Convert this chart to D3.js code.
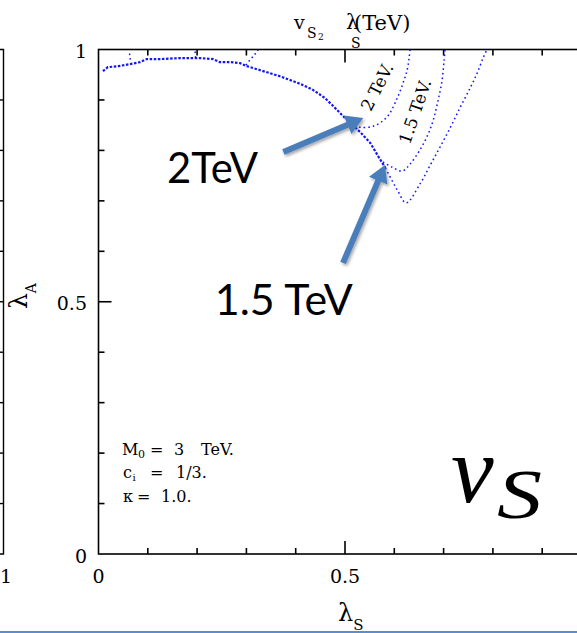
<!DOCTYPE html>
<html>
<head>
<meta charset="utf-8">
<script src="https://cdn.jsdelivr.net/npm/d3@7"></script>
<style>
  html, body { margin: 0; padding: 0; background: #fff; }
  svg { display: block; }
</style>
</head>
<body>
<svg id="chart" width="577" height="633"></svg>
<script>
// ---- data (λS, λA) ----
// upper edge of the allowed region (2 TeV boundary, densely dotted)
const upperEdge = [
  [0.009, 0.957], [0.019, 0.965], [0.040, 0.967], [0.064, 0.971], [0.084, 0.975],
  [0.098, 0.981], [0.125, 0.981], [0.165, 0.983], [0.206, 0.983], [0.232, 0.981],
  [0.246, 0.975], [0.267, 0.975], [0.287, 0.973], [0.301, 0.967], [0.328, 0.959],
  [0.368, 0.947], [0.409, 0.932], [0.435, 0.920], [0.459, 0.904], [0.476, 0.888],
  [0.496, 0.868], [0.514, 0.852], [0.531, 0.836], [0.551, 0.815], [0.567, 0.789],
  [0.582, 0.765]
];
// outer contour: from the lower end of the edge, through its minimum, up to λA = 1
const outerContour = [
  [0.582, 0.765], [0.595, 0.741], [0.607, 0.720], [0.624, 0.696], [0.653, 0.735],
  [0.673, 0.771], [0.693, 0.807], [0.714, 0.846], [0.734, 0.886], [0.754, 0.924],
  [0.768, 0.953], [0.780, 0.983], [0.788, 1.000]
];
// middle contour
const middleContour = [
  [0.577, 0.777], [0.595, 0.767], [0.616, 0.759], [0.632, 0.773], [0.652, 0.801],
  [0.668, 0.831], [0.679, 0.860], [0.689, 0.900], [0.697, 0.940], [0.701, 0.979],
  [0.703, 1.000]
];
// inner contour
const innerContour = [
  [0.520, 0.850], [0.531, 0.846], [0.557, 0.848], [0.585, 0.866], [0.607, 0.906],
  [0.620, 0.940], [0.626, 0.959], [0.630, 0.983], [0.632, 1.000]
];
// short branches leaving the upper edge
const sideBranches = [
  [[0.299, 0.969], [0.307, 0.979], [0.316, 0.989], [0.324, 1.000]],
  [[0.063, 0.992], [0.065, 0.975]],
  [[0.196, 0.996], [0.197, 0.983]]
];

// ---- axes ----
const minorTicks = [0.1, 0.2, 0.3, 0.4, 0.5, 0.6, 0.7, 0.8, 0.9];
const majorTicks = [0.5];
const xTickValues = [0, 0.5];
const xTickLabels = ["0", "0.5"];
const yTickValues = [0, 0.5, 1];
const yTickLabels = ["0", "0.5", "1"];

// ---- annotations ----
const contourLabels = [
  { text: "2 TeV.", at: [0.565, 0.926], angle: -63 },
  { text: "1.5 TeV.", at: [0.642, 0.877], angle: -71 }
];
const arrows = [
  { from: [0.375, 0.797], to: [0.537, 0.864], label: "2TeV", labelAt: [0.139, 0.735], labelWidth: 91 },
  { from: [0.496, 0.577], to: [0.581, 0.771], label: "1.5 TeV", labelAt: [0.236, 0.474], labelWidth: 138 }
];
const paramLines = [
  [["M", 122, 0, 16], ["0", 138, 3, 11], ["=", 150, 0, 16], ["3", 174, 0, 16], ["TeV.", 201, 0, 16]],
  [["c", 123, 0, 16], ["i", 132.5, 3, 10], ["=", 150, 0, 16], ["1/3.", 176, 0, 16]],
  [["κ", 123, 0, 16], ["=", 137, 0, 16], ["1.0.", 161, 0, 16]]
];
const paramBaselines = [455, 478, 502];

// ---- layout ----
const W = 577, H = 633;
const x = d3.scaleLinear().domain([0, 1]).range([98.5, 591.5]);
const y = d3.scaleLinear().domain([0, 1]).range([554, 49.5]);
const serif = "DejaVu Serif";
const curveBlue = "#1414ff";
const arrowBlue = "#4a7ebb";

const svg = d3.select("#chart");
svg.append("rect").attr("width", W).attr("height", H).attr("fill", "#fff");

const defs = svg.append("defs");
defs.append("clipPath").attr("id", "plot-clip")
  .append("rect").attr("x", x(0)).attr("y", y(1)).attr("width", x(1) - x(0)).attr("height", y(0) - y(1));
const shadow = defs.append("filter").attr("id", "arrow-shadow")
  .attr("x", "-20%").attr("y", "-20%").attr("width", "140%").attr("height", "140%");
shadow.append("feDropShadow").attr("dx", 1.5).attr("dy", 2).attr("stdDeviation", 1.6)
  .attr("flood-color", "#000").attr("flood-opacity", 0.35);

// neighbouring panel's right edge
const side = svg.append("g").attr("stroke", "#000").attr("stroke-width", 1.4).attr("fill", "none");
side.append("path").attr("d", `M0,${y(1)} H3.5 V${y(0)} H0`);
side.selectAll("line.t").data(minorTicks).join("line")
  .attr("x1", 0).attr("x2", 3.5).attr("y1", d => y(d)).attr("y2", d => y(d));
svg.append("text").attr("x", 0).attr("y", 583).attr("text-anchor", "start")
  .attr("font-family", serif).attr("font-size", 19).text("1");

// frame
const frame = svg.append("g").attr("stroke", "#000").attr("stroke-width", 1.6).attr("fill", "none");
frame.append("rect").attr("x", x(0)).attr("y", y(1)).attr("width", x(1) - x(0)).attr("height", y(0) - y(1));
const tickLen = d => majorTicks.includes(d) ? 13 : 6;
frame.selectAll("line.b").data(minorTicks).join("line").attr("class", "b")
  .attr("x1", d => x(d)).attr("x2", d => x(d)).attr("y1", y(0)).attr("y2", d => y(0) - tickLen(d));
frame.selectAll("line.tp").data(minorTicks).join("line").attr("class", "tp")
  .attr("x1", d => x(d)).attr("x2", d => x(d)).attr("y1", y(1)).attr("y2", d => y(1) + tickLen(d));
frame.selectAll("line.l").data(minorTicks).join("line").attr("class", "l")
  .attr("x1", x(0)).attr("x2", d => x(0) + tickLen(d)).attr("y1", d => y(d)).attr("y2", d => y(d));

// tick labels
svg.selectAll("text.xl").data(xTickValues).join("text").attr("class", "xl")
  .attr("x", d => x(d)).attr("y", 583).attr("text-anchor", "middle")
  .attr("font-family", serif).attr("font-size", 19)
  .text((d, i) => xTickLabels[i]);
svg.selectAll("text.yl").data(yTickValues).join("text").attr("class", "yl")
  .attr("x", 87).attr("y", d => y(d) + 8.5).attr("text-anchor", "end")
  .attr("font-family", serif).attr("font-size", 19)
  .text((d, i) => yTickLabels[i]);

// axis titles
const xt = svg.append("text").attr("x", 338).attr("y", 621).attr("font-family", serif);
xt.append("tspan").attr("font-size", 24).text("λ");
xt.append("tspan").attr("font-size", 15).attr("dy", 9).text("S");

const yt = svg.append("text").attr("transform", "translate(27,309) rotate(-90)").attr("font-family", serif);
yt.append("tspan").attr("font-size", 25).text("λ");
yt.append("tspan").attr("font-size", 14).attr("dy", 9).text("A");

// top title (two overlapping labels)
const tt = svg.append("g").attr("font-family", serif);
tt.append("text").attr("x", 294).attr("y", 29).attr("font-size", 19).text("v");
tt.append("text").attr("x", 307).attr("y", 38).attr("font-size", 14).text("S");
tt.append("text").attr("x", 318).attr("y", 40).attr("font-size", 9).text("2");
tt.append("text").attr("x", 354).attr("y", 30).attr("font-size", 21).text("(TeV)");
tt.append("text").attr("x", 346).attr("y", 29).attr("font-size", 20).text("λ");
tt.append("text").attr("x", 351).attr("y", 48).attr("font-size", 14).text("S");

// contours
const line = d3.line().x(d => x(d[0])).y(d => y(d[1]));
const smooth = d3.line().x(d => x(d[0])).y(d => y(d[1])).curve(d3.curveCatmullRom.alpha(0.5));
const curves = svg.append("g").attr("clip-path", "url(#plot-clip)").attr("fill", "none").attr("stroke", curveBlue);
curves.append("path").datum(upperEdge).attr("d", line)
  .attr("stroke-width", 2.2).attr("stroke-dasharray", "2.5,1.6");
[outerContour, middleContour, innerContour].forEach(c => {
  curves.append("path").datum(c).attr("d", smooth)
    .attr("stroke-width", 1.5).attr("stroke-dasharray", "1.6,3");
});
sideBranches.forEach(b => {
  curves.append("path").datum(b).attr("d", line)
    .attr("stroke-width", 1.5).attr("stroke-dasharray", "1.6,3");
});

// contour labels
contourLabels.forEach(l => {
  svg.append("text")
    .attr("transform", `translate(${x(l.at[0])},${y(l.at[1])}) rotate(${l.angle})`)
    .attr("text-anchor", "middle").attr("dominant-baseline", "central")
    .attr("font-family", serif).attr("font-size", 17).text(l.text);
});

// parameters
const pg = svg.append("g").attr("font-family", serif).attr("fill", "#000");
paramLines.forEach((pieces, i) => {
  pieces.forEach(([t, px, dy, fs]) => {
    pg.append("text").attr("x", px).attr("y", paramBaselines[i] + dy).attr("font-size", fs).text(t);
  });
});

// panel symbol v_S (math italic)
const vs = svg.append("g").attr("font-family", "Liberation Serif").attr("font-style", "italic");
vs.append("text").attr("x", 451).attr("y", 502).attr("font-size", 96).text("v");
vs.append("text").attr("x", 497).attr("y", 518).attr("font-size", 70)
  .attr("textLength", 45).attr("lengthAdjust", "spacingAndGlyphs").text("S");

// callout arrows and their labels
const ag = svg.append("g").attr("filter", "url(#arrow-shadow)");
arrows.forEach(a => {
  const x1 = x(a.from[0]), y1 = y(a.from[1]), x2 = x(a.to[0]), y2 = y(a.to[1]);
  const len = Math.hypot(x2 - x1, y2 - y1);
  const ux = (x2 - x1) / len, uy = (y2 - y1) / len, nx = -uy, ny = ux;
  const head = 17, hw = 10, sw = 3;
  const bx = x2 - ux * head, by = y2 - uy * head;
  const pts = [
    [x1 + nx * sw, y1 + ny * sw], [bx + nx * sw, by + ny * sw], [bx + nx * hw, by + ny * hw],
    [x2, y2], [bx - nx * hw, by - ny * hw], [bx - nx * sw, by - ny * sw], [x1 - nx * sw, y1 - ny * sw]
  ];
  ag.append("path").attr("d", "M" + pts.map(p => p.join(",")).join("L") + "Z").attr("fill", arrowBlue);
});
arrows.forEach(a => {
  svg.append("text").attr("x", x(a.labelAt[0])).attr("y", y(a.labelAt[1]))
    .attr("font-family", "Lato").attr("font-size", 42)
    .attr("textLength", a.labelWidth).attr("lengthAdjust", "spacingAndGlyphs")
    .attr("fill", "#000").text(a.label);
});

// slide rule at the bottom
svg.append("line").attr("x1", 0).attr("x2", W).attr("y1", 632).attr("y2", 632)
  .attr("stroke", "#5b8ed0").attr("stroke-width", 2);
</script>
</body>
</html>
